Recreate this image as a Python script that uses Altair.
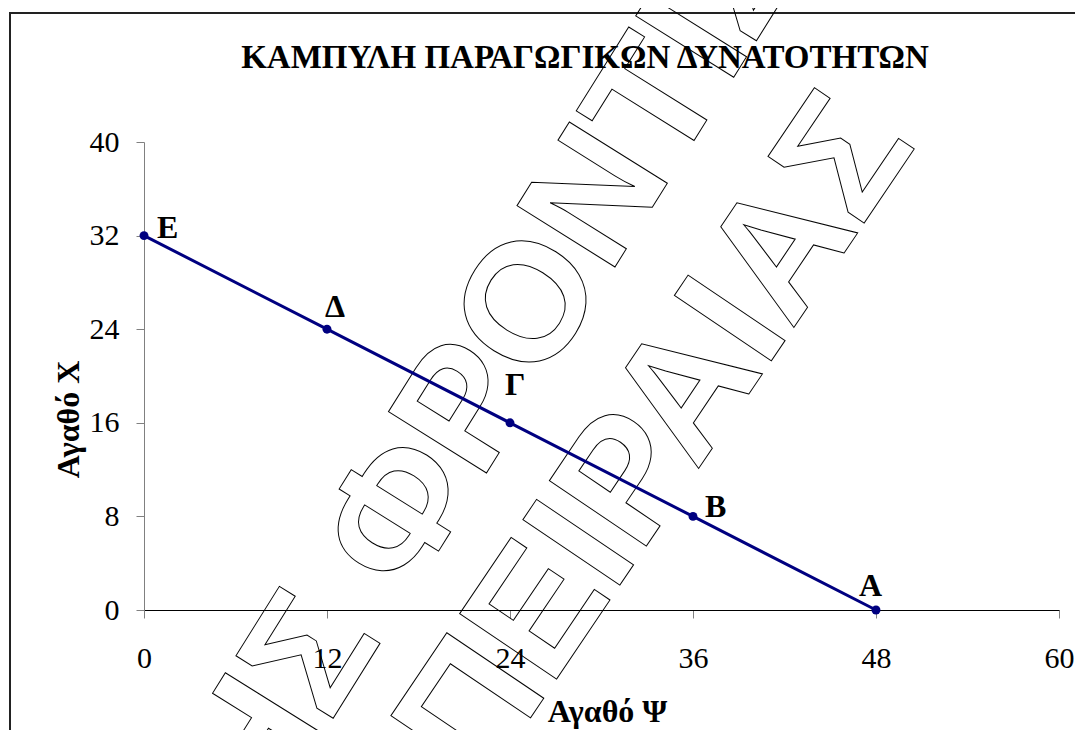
import altair as alt
import pandas as pd

# ---- data ----
goods_psi = [0, 12, 24, 36, 48]          # Αγαθό Ψ (horizontal)
goods_chi = [32, 24, 16, 8, 0]           # Αγαθό Χ (vertical)
point_names = ["Ε", "Δ", "Γ", "Β", "Α"]
x_ticks = [0, 12, 24, 36, 48, 60]
y_ticks = [0, 8, 16, 24, 32, 40]
chart_title = "ΚΑΜΠΥΛΗ ΠΑΡΑΓΩΓΙΚΩΝ ΔΥΝΑΤΟΤΗΤΩΝ"
x_title = "Αγαθό Ψ"
y_title = "Αγαθό Χ"
watermark_lines = ["ΗΣ ΦΡΟΝΤΙΣ", "ΠΕΙΡΑΙΑΣ"]

df = pd.DataFrame({"psi": goods_psi, "chi": goods_chi, "name": point_names})
one = pd.DataFrame({"k": [0]})

W, H = 915, 468
NAVY = "#000080"
SERIF = "Liberation Serif"

x_enc = alt.X("psi:Q", scale=alt.Scale(domain=[0, 60], nice=False, zero=True),
              axis=alt.Axis(values=x_ticks, title=x_title))
y_enc = alt.Y("chi:Q", scale=alt.Scale(domain=[0, 40], nice=False, zero=True),
              axis=alt.Axis(values=y_ticks, title=y_title))

# frame around the whole chart (only its left and top edges are inside the picture)
frame_left = alt.Chart(one).mark_rule(color="#222222", strokeWidth=2).encode(
    x=alt.value(-134), y=alt.value(-130), y2=alt.value(1200))
frame_top = alt.Chart(one).mark_rule(color="#222222", strokeWidth=2).encode(
    x=alt.value(-135), x2=alt.value(1400), y=alt.value(-129))

# watermark (outlined text)
wm1 = alt.Chart(pd.DataFrame({"t": [watermark_lines[0]]})).mark_text(
    font="Liberation Sans", fontSize=168, fontWeight="bold", fillOpacity=0,
    stroke="black", strokeWidth=1, angle=302, align="center", baseline="middle").encode(
    text="t:N", x=alt.value(493 - 144), y=alt.value(368 - 142))
wm2 = alt.Chart(pd.DataFrame({"t": [watermark_lines[1]]})).mark_text(
    font="Liberation Sans", fontSize=170, fontWeight="bold", fillOpacity=0,
    stroke="black", strokeWidth=1, angle=304, align="center", baseline="middle").encode(
    text="t:N", x=alt.value(657 - 144), y=alt.value(439 - 142))

title = alt.Chart(pd.DataFrame({"t": [chart_title]})).mark_text(
    font=SERIF, fontSize=33, fontWeight="bold", align="center", baseline="alphabetic",
    color="black").encode(text="t:N", x=alt.value(585 - 144), y=alt.value(68 - 142))

base = alt.Chart(df)
line = base.mark_line(color=NAVY, strokeWidth=3).encode(x=x_enc, y=y_enc)
pts = base.mark_circle(color=NAVY, size=80, opacity=1).encode(x=x_enc, y=y_enc)

offsets = {"Ε": (13, 2), "Δ": (-2, -12), "Γ": (-5, -28), "Β": (12, 1), "Α": (-17, -14)}
label_layers = []
for n in point_names:
    dx, dy = offsets[n]
    label_layers.append(
        base.transform_filter(alt.datum.name == n).mark_text(
            font=SERIF, fontSize=32, fontWeight="bold", align="left",
            baseline="alphabetic", dx=dx, dy=dy, color="black"
        ).encode(x=x_enc, y=y_enc, text="name:N")
    )

chart = alt.layer(frame_left, frame_top, wm1, wm2, title, line, pts, *label_layers).properties(
    width=W, height=H,
    autosize=alt.AutoSizeParams(type="none"),
    padding={"left": 136, "top": 134, "right": 16, "bottom": 120},
    background="white",
).configure_view(stroke=None).configure_axisX(
    domainColor="black", domainWidth=1, tickColor="#808080", tickSize=8,
    labelFont=SERIF, labelFontSize=30, labelColor="black", labelPadding=25,
    labelFlush=False, labelOverlap=False, grid=False,
    titleFont=SERIF, titleFontSize=32, titleFontWeight="bold", titleColor="black",
    titleX=463, titleY=111.5, titleBaseline="alphabetic", titleAlign="center",
).configure_axisY(
    domainColor="#808080", domainWidth=1, tickColor="#808080", tickSize=8,
    labelFont=SERIF, labelFontSize=30, labelColor="black", labelPadding=17,
    labelBaseline="middle", labelOverlap=False, labelFlush=False, grid=False,
    titleFont=SERIF, titleFontSize=32, titleFontWeight="bold", titleColor="black",
    titleAngle=270, titleX=-66, titleY=277, titleBaseline="alphabetic", titleAlign="center",
)

chart.save("out.html", embed_options={"renderer": "svg", "actions": False})
